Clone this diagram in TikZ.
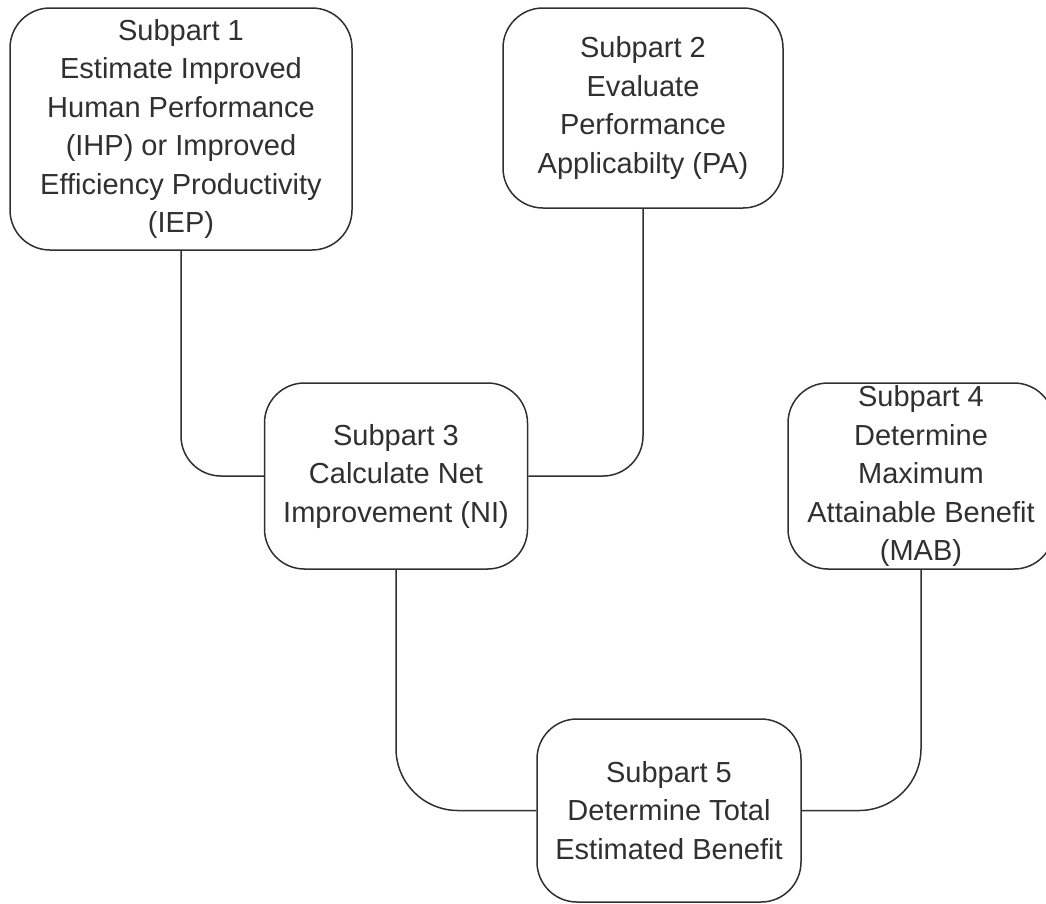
\documentclass[tikz,border=0pt]{standalone}
\usepackage{fontspec}
\setmainfont{Liberation Sans}
\usepackage{tikz}
\definecolor{inkgrey}{HTML}{303030}
\tikzset{
  subpart/.style={draw=inkgrey, line width=1.5pt, rounded corners=40pt, fill=white, align=center, text=inkgrey, font=\fontsize{29}{38.5}\selectfont, inner sep=0pt},
  link/.style={draw=inkgrey, line width=1.5pt},
}

\begin{document}
\begin{tikzpicture}[x=1pt, y=-1pt]
  \useasboundingbox (0,0) rectangle (1046,903);

  % Row 1: inputs
  \node[subpart, minimum width=342pt, minimum height=242pt] (sub1) at (181,129)
    {Subpart 1\\Estimate Improved\\Human Performance\\(IHP) or Improved\\Efficiency Productivity\\(IEP)};
  \node[subpart, minimum width=280pt, minimum height=200pt] (sub2) at (643,108)
    {Subpart 2\\Evaluate\\Performance\\Applicabilty (PA)};

  % Row 2: net improvement and maximum benefit
  \node[subpart, minimum width=263pt, minimum height=186pt] (sub3) at (396,476)
    {Subpart 3\\Calculate Net\\Improvement (NI)};
  \node[subpart, minimum width=266pt, minimum height=186pt] (sub4) at (921,476)
    {Subpart 4\\Determine\\Maximum\\Attainable Benefit\\(MAB)};

  % Row 3: total
  \node[subpart, minimum width=264pt, minimum height=183pt] (sub5) at (669,810.5)
    {Subpart 5\\Determine Total\\Estimated Benefit};

  % Connectors
  \draw[link, rounded corners=40pt] (sub1.south) |- (sub3.west);
  \draw[link, rounded corners=40pt] (sub2.south) |- (sub3.east);
  \draw[link, rounded corners=62pt] (sub3.south) |- (sub5.west);
  \draw[link, rounded corners=62pt] (sub4.south) |- (sub5.east);
\end{tikzpicture}
\end{document}
